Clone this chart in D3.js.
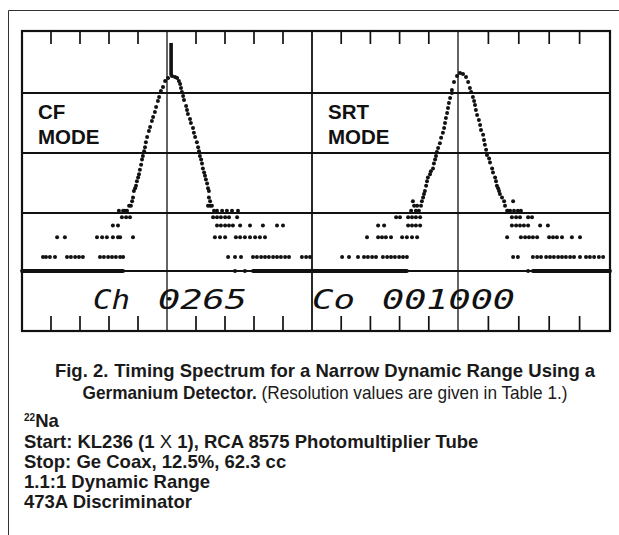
<!DOCTYPE html>
<html><head><meta charset="utf-8">
<script src="https://cdn.jsdelivr.net/npm/d3@7"></script>
<style>body{margin:0;background:#fff}svg{display:block}</style>
</head><body>
<svg id="c" width="619" height="535"></svg>
<script>
// ---------- data ----------
const majorX = [0, 1, 2, 3, 4];            // major vertical divisions
const majorY = [0, 1, 2, 3, 4, 5];         // major horizontal divisions
const minorPerMajor = 5;
const panelLabels = [["CF", "MODE"], ["SRT", "MODE"]];
const lcdLeft = ["Ch", "0265"];
const lcdRight = ["Co", "001000"];
const cursorChannel = 49.7;
const cursorTopCount = 1750;
const cursorBottomCount = 560;

// [channel, counts]  (log display, 0 counts sit on the baseline)
const cfPoints = [
  // left tail
  [7.0,1],[8.0,1],[9.3,1],[11.0,1],[15.0,1],[16.3,1],[17.7,1],[19.0,1],[20.3,1],[26.0,1],[27.3,1],[28.7,1],[30.0,1],[31.3,1],[32.7,1],[33.7,1],
  [11.7,2],[14.3,2],[25.0,2],[26.7,2],[28.3,2],[30.3,2],[32.0,2],[32.7,2],[37.0,2],
  [30.3,3],[32.0,3],
  [33.3,4],[34.7,4],[36.0,4],
  [32.3,5],[33.7,5],
  // left slope
  [34.3,5],[35.0,5],[35.7,6],[36.3,6],[36.7,7],[37.0,8],[37.3,10],[37.7,11],[38.0,12],[38.3,14],[38.7,16],[39.0,18],[39.3,21],[39.7,25],[40.0,30],[40.3,34],[40.7,40],[41.0,46],[41.3,55],[41.7,66],[42.3,81],[42.7,93],[43.3,115],[43.7,132],[44.3,157],[44.7,187],[45.3,231],[45.7,266],[46.3,327],[47.0,377],
  // peak
  [47.7,464],[48.7,515],[50.0,553],[51.0,534],[51.7,515],[52.3,464],[52.7,418],
  // right slope
  [53.0,364],[53.3,316],[53.7,275],[54.0,239],[54.7,194],[55.0,169],[55.3,147],[56.0,123],[56.3,107],[57.0,90],[57.3,76],[57.7,66],[58.3,55],[58.7,46],[59.0,40],[59.3,34],[59.7,30],[60.0,26],[60.3,22],[60.7,19],[61.0,17],[61.3,15],[61.7,13],[62.0,11],[62.3,10],[62.3,8],[62.7,7],[62.7,6],[62.0,6],[63.3,6],[64.0,5],
  // right tail
  [65.0,5],[66.7,5],[68.3,5],[70.0,5],[72.0,5],
  [63.7,4],[65.0,4],[66.3,4],[67.7,4],[69.0,4],[71.7,4],
  [65.0,3],[66.3,3],[67.7,3],[69.0,3],[70.3,3],[72.7,3],[76.0,3],[80.3,3],[85.0,3],[87.0,3],
  [64.3,2],[66.0,2],[67.7,2],[71.3,2],[72.7,2],[74.3,2],[76.0,2],[77.7,2],[79.3,2],[81.0,2],
  [68.7,1],[71.0,1],[73.0,1],[77.0,1],[78.3,1],[79.7,1],[81.0,1],[82.3,1],[83.7,1],[85.0,1],[86.3,1],[87.7,1],[89.0,1],[93.3,1],[94.7,1],[96.0,1],
  [71.0,0],[74.3,0]
];

const srtPoints = [
  // left tail
  [106.7,1],[109.0,1],[112.0,1],[114.0,1],[115.3,1],[116.7,1],[118.0,1],[120.3,1],[121.7,1],[123.0,1],[124.3,1],[125.7,1],[127.0,1],[128.3,1],
  [115.0,2],[118.7,2],[120.0,2],[121.3,2],[123.0,2],[126.7,2],[128.3,2],[130.0,2],[131.7,2],
  [118.7,3],[120.7,3],[128.7,3],[130.0,3],[131.3,3],[132.7,3],
  [124.7,4],[126.0,4],[128.7,4],[130.0,4],[131.3,4],[132.7,4],
  [129.7,5],[131.3,5],
  // left slope
  [130.3,7],[130.7,6],[131.7,6],[132.3,5],[133.0,6],[133.3,7],[133.7,8],[134.0,9],[134.3,10],[134.7,12],[135.0,14],[135.3,16],[136.0,18],[136.3,20],[137.0,22],[137.3,26],[137.7,30],[138.0,34],[138.3,39],[138.7,45],[139.3,53],[139.7,64],[140.3,76],[140.7,90],[141.0,107],[141.3,128],[141.7,152],[142.0,181],[142.3,216],[142.7,257],[143.3,305],[143.3,339],
  // peak
  [144.0,448],[145.0,553],[146.0,613],[147.0,592],[148.0,534],[148.7,448],
  // right slope
  [149.3,364],[149.7,316],[150.3,266],[150.7,231],[151.0,201],[151.3,169],[151.7,142],[152.3,119],[152.7,100],[153.0,84],[153.7,71],[154.0,59],[154.3,50],[154.7,42],[155.0,35],[155.7,31],[156.0,27],[156.7,22],[157.0,19],[157.7,16],[158.0,14],[158.3,12],[158.7,11],[159.0,10],[159.3,9],[160.0,8],[160.7,7],[161.0,6],[161.7,5],[162.0,5],[163.7,7],
  // right tail
  [162.7,5],[164.0,5],[165.3,5],[166.3,5],
  [163.3,4],[164.7,4],[166.0,4],[168.7,4],[170.0,4],
  [163.3,3],[164.7,3],[166.0,3],[167.3,3],[168.7,3],[172.7,3],[175.3,3],
  [161.7,2],[166.3,2],[167.7,2],[169.0,2],[170.3,2],[171.7,2],[175.7,2],[177.0,2],[178.3,2],[180.0,2],[183.3,2],[186.0,2],
  [163.7,1],[165.3,1],[170.3,1],[171.7,1],[173.0,1],[174.7,1],[176.0,1],[177.3,1],[178.7,1],[180.0,1],[181.3,1],[182.7,1],[184.0,1],[186.0,1],[188.0,1],[189.3,1],[190.7,1],[192.3,1],[193.7,1],
  [168.7,0]
];

// runs of channels holding zero counts (they pile up on the baseline)
const zeroRuns = [[0, 33.7], [77.0, 128.3], [170.3, 196]];

const captionLine1 = ["Fig. 2.", "Timing Spectrum for a Narrow Dynamic Range Using a"];
const captionLine2 = ["Germanium Detector.", " (Resolution values are given in Table 1.)"];
const notes = [
  ["Start: KL236 (1 ", "X", " 1), RCA 8575 Photomultiplier Tube"],
  ["Stop: Ge Coax, 12.5%, 62.3 cc"],
  ["1.1:1 Dynamic Range"],
  ["473A Discriminator"]
];
const isotope = ["22", "Na"];

// ---------- drawing ----------
const svg = d3.select("#c");
const ink = "#111";
const gx = d3.scaleLinear().domain(majorX).range([22, 167, 312, 458, 610]);
const gy = d3.scaleLinear().domain(majorY).range([331, 271, 213, 153, 93, 31]);
const x = d3.scaleLinear().domain([0, 196]).range([22, 610]);
const yLog = d3.scaleLog().domain([1, 1000]).range([257, 59]);
const yOf = c => c > 0 ? yLog(c) : gy(1);

// outer figure border (left + top)
svg.append("path").attr("d", "M8.5,535V10.5H619").attr("fill", "none").attr("stroke", "#333").attr("stroke-width", 1);

const grid = svg.append("g").attr("stroke", ink).attr("fill", "none");
grid.selectAll("line.h").data(majorY.slice(1, -1)).join("line")
  .attr("x1", gx(0)).attr("x2", gx(4)).attr("y1", d => gy(d)).attr("y2", d => gy(d))
  .attr("stroke-width", 1.8);
grid.selectAll("line.v").data(majorX.slice(1, -1)).join("line")
  .attr("y1", gy(0)).attr("y2", gy(5)).attr("x1", d => gx(d)).attr("x2", d => gx(d))
  .attr("stroke-width", d => d === 2 ? 1.8 : 1.3);
grid.append("rect").attr("x", gx(0)).attr("y", gy(5)).attr("width", gx(4) - gx(0)).attr("height", gy(0) - gy(5))
  .attr("stroke-width", 2.2);
const minors = [];
majorX.slice(0, -1).forEach(m => { for (let j = 1; j < minorPerMajor; j++) minors.push(m + j / minorPerMajor); });
grid.selectAll("line.tt").data(minors).join("line")
  .attr("x1", d => gx(d)).attr("x2", d => gx(d)).attr("y1", gy(5)).attr("y2", gy(5) + 13).attr("stroke-width", 1.7);
grid.selectAll("line.tb").data(minors).join("line")
  .attr("x1", d => gx(d)).attr("x2", d => gx(d)).attr("y1", gy(0)).attr("y2", gy(0) - 15).attr("stroke-width", 1.7);

// zero-count runs on the baseline
svg.append("g").selectAll("line").data(zeroRuns).join("line")
  .attr("x1", d => x(d[0])).attr("x2", d => x(d[1])).attr("y1", gy(1)).attr("y2", gy(1))
  .attr("stroke", ink).attr("stroke-width", 3.8).attr("stroke-linecap", "round");

// spectra dots
[cfPoints, srtPoints].forEach(pts => {
  svg.append("g").selectAll("circle").data(pts).join("circle")
    .attr("cx", d => x(d[0])).attr("cy", d => yOf(d[1])).attr("r", 2.0).attr("fill", ink);
});

// cursor marker
svg.append("line").attr("x1", x(cursorChannel)).attr("x2", x(cursorChannel))
  .attr("y1", yLog(cursorTopCount)).attr("y2", yLog(cursorBottomCount))
  .attr("stroke", ink).attr("stroke-width", 3.6);

// mode labels
const labelFont = "'Liberation Sans', Arial, Helvetica, sans-serif";
panelLabels.forEach((lab, i) => {
  const t = svg.append("text").attr("font-family", labelFont).attr("font-weight", "bold")
    .attr("font-size", 20.5).attr("fill", ink);
  lab.forEach((s, k) => t.append("tspan").attr("x", gx(i * 2) + 16).attr("y", 118.5 + k * 25).text(s));
});

// LCD read-out
const lcdFont = "'DejaVu Sans Mono', monospace";
function lcd(str, x0, len) {
  svg.append("text").attr("x", x0).attr("y", 309).attr("font-family", lcdFont).attr("font-style", "italic")
    .attr("font-size", 27).attr("fill", ink).attr("textLength", len).attr("lengthAdjust", "spacingAndGlyphs").text(str);
}
lcd(lcdLeft[0], 93, 37); lcd(lcdLeft[1], 158, 89);
lcd(lcdRight[0], 312, 43); lcd(lcdRight[1], 382, 133);

// caption
const cap = svg.append("g").attr("font-family", labelFont).attr("fill", "#1a1a1a").attr("font-size", 18.5);
const c1 = cap.append("text").attr("x", 325).attr("y", 377).attr("text-anchor", "middle").attr("font-weight", "bold");
c1.append("tspan").text(captionLine1[0]);
c1.append("tspan").attr("dx", 6).text(captionLine1[1]);
const c2 = cap.append("text").attr("x", 325).attr("y", 399).attr("text-anchor", "middle")
  .attr("textLength", 485).attr("lengthAdjust", "spacingAndGlyphs");
c2.append("tspan").attr("font-weight", "bold").text(captionLine2[0]);
c2.append("tspan").text(captionLine2[1]);

const iso = cap.append("text").attr("x", 24).attr("y", 427).attr("font-weight", "bold");
iso.append("tspan").attr("font-size", 10).attr("dy", -6).text(isotope[0]);
iso.append("tspan").attr("dy", 6).text(isotope[1]);
notes.forEach((parts, i) => {
  const t = cap.append("text").attr("x", 24).attr("y", 447.5 + i * 20.3).attr("font-weight", "bold");
  parts.forEach((p, k) => t.append("tspan").attr("font-weight", k === 1 ? "normal" : "bold").text(p));
});
</script>
</body></html>
